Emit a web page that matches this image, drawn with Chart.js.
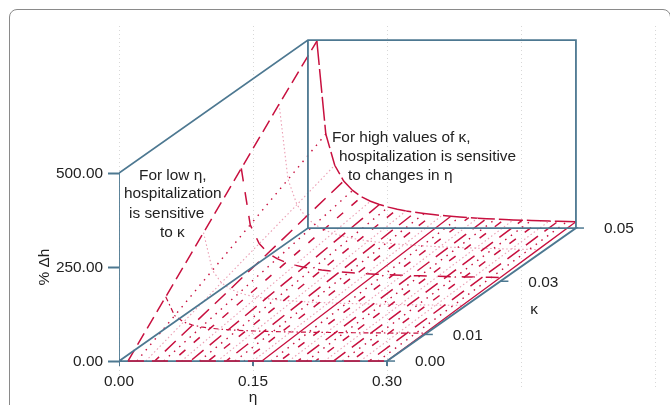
<!DOCTYPE html>
<html>
<head>
<meta charset="utf-8">
<title>Hospitalization sensitivity</title>
<script src="https://cdn.jsdelivr.net/npm/chart.js@4/dist/chart.umd.min.js"></script>
<style>
  html, body { margin: 0; padding: 0; background: #fff; overflow: hidden; width: 670px; height: 405px; }
  #card { position: absolute; left: 9px; top: 9px; width: 660px; height: 420px; border: 1px solid #8a8a8a; border-radius: 8px; }
  #chart { position: absolute; left: 0; top: 0; }
</style>
</head>
<body>
<div id="card"></div>
<canvas id="chart" width="670" height="405"></canvas>
<script>
// values
const etaValues = [0.01,0.02,0.03,0.04,0.05,0.06,0.07,0.08,0.09,0.10,0.11,0.12,0.13,0.14,0.15,
                   0.16,0.17,0.18,0.19,0.20,0.21,0.22,0.23,0.24,0.25,0.26,0.27,0.28,0.29,0.30];
const kappaValues = [0.00, 0.01, 0.02, 0.03, 0.04, 0.05];

const pctH00 = [0,0,0,0,0,0,0,0,0,0,0,0,0,0,0,0,0,0,0,0,0,0,0,0,0,0,0,0,0,0];
const pctH01 = [100,50,33.3,25,20,16.7,14.3,12.5,11.1,10,9.1,8.3,7.7,7.1,6.7,6.3,5.9,5.6,5.3,5,4.8,4.5,4.3,4.2,4,3.8,3.7,3.6,3.4,3.3];
const pctH02 = [200,100,66.7,50,40,33.3,28.6,25,22.2,20,18.2,16.7,15.4,14.3,13.3,12.5,11.8,11.1,10.5,10,9.5,9.1,8.7,8.3,8,7.7,7.4,7.1,6.9,6.7];
const pctH03 = [300,150,100,75,60,50,42.9,37.5,33.3,30,27.3,25,23.1,21.4,20,18.8,17.6,16.7,15.8,15,14.3,13.6,13,12.5,12,11.5,11.1,10.7,10.3,10];
const pctH04 = [400,200,133,100,80,66.7,57.1,50,44.4,40,36.4,33.3,30.8,28.6,26.7,25,23.5,22.2,21.1,20,19,18.2,17.4,16.7,16,15.4,14.8,14.3,13.8,13.3];
const pctH05 = [497,250,167,125,100,83,71.4,62.5,55.6,50,45.5,41.7,38.5,35.7,33.3,31.3,29.4,27.8,26.3,25,23.8,22.7,21.7,20.8,20,19.2,18.5,17.9,17.2,16.7];
const pctRows = [pctH00, pctH01, pctH02, pctH03, pctH04, pctH05];

const etaTicks = [0.00, 0.15, 0.30];
const kappaTicks = [0.00, 0.01, 0.03, 0.05];
const pctTicks = [0, 250, 500];

// box edges, null breaks the path
const frameEta   = [0, 0.3, 0.3, 0, 0, 0, 0, 0.3, 0.3, null, 0, 0];
const frameKappa = [0, 0, 0.05, 0.05, 0, 0, 0.05, 0.05, 0.05, null, 0.05, 0.05];
const framePct   = [0, 0, 0, 0, 0, 500, 500, 500, 0, null, 0, 500];

const noteTexts = ["For low η,", "hospitalization", "is sensitive", "to κ",
                   "For high values of κ,", "hospitalization is sensitive", "to changes in η"];
const noteX = [0.0224, 0.0056, 0.0112, 0.0459, 0.2384, 0.2463, 0.2564];
const noteY = [494, 446, 391, 340, 593, 542, 492];

// oblique projection of the kappa axis onto the page
const KX = 4.23, KY = 7074;
const project = (eta, kappa, pct) => ({ x: eta + kappa * KX, y: pct + kappa * KY });

const BLUE = "#4d7891", RED = "#c8103f", PINK = "#eb9fb4";
const FONT = "15.4px 'Liberation Sans'";
const datasets = [];

// frame
datasets.push({
  data: frameEta.map((e, i) => e === null ? { x: null, y: null } : project(e, frameKappa[i], framePct[i])),
  borderColor: BLUE, borderWidth: 1.8, order: 0, spanGaps: false
});

// ticks on eta and kappa
etaTicks.forEach(e => datasets.push({
  data: [project(e, 0, 0), project(e, 0, -13)], borderColor: BLUE, borderWidth: 2, order: 0
}));
kappaTicks.forEach(k => {
  const a = project(0.30, k, 0);
  datasets.push({ data: [a, { x: a.x + 0.009, y: a.y }], borderColor: BLUE, borderWidth: 1.5, order: 0 });
});

// lines along kappa, one per eta, line styles in turn
const longDash = { borderColor: RED, borderWidth: 1.5, borderDash: [15, 8] };
const shortDash = { borderColor: RED, borderWidth: 1.5, borderDash: [8, 11] };
const redDots = { borderColor: RED, borderWidth: 1.4, borderDash: [1.5, 5.5] };
const pinkDots = { borderColor: PINK, borderWidth: 1.1, borderDash: [1.5, 2.5] };
const solidLine = { borderColor: RED, borderWidth: 1.3, borderDash: [] };

etaValues.forEach((eta, j) => {
  const pts = kappaValues.map((k, i) => project(eta, k, pctRows[i][j]));
  let style;
  if (j === etaValues.length - 1 || j === 15) style = solidLine;
  else if (j === 0) style = { borderColor: RED, borderWidth: 1.5, borderDash: [13, 6] };
  else if (j === 1) style = redDots;
  else if (j === 2) style = pinkDots;
  else if (j % 4 === 3) style = Object.assign({ borderDashOffset: j * 3 }, longDash);
  else if (j % 4 === 1) style = Object.assign({ borderDashOffset: j * 2 }, shortDash);
  else if (j % 4 === 0) style = redDots;
  else style = pinkDots;
  datasets.push(Object.assign({ data: pts, order: 1 }, style));
});

// lines along eta, one per kappa; the kappa = 0 one sits on top of the frame
const curveStyles = [
  { borderColor: RED, borderWidth: 1.5, borderDash: [16, 8], order: -1 },
  { borderColor: RED, borderWidth: 1.2, borderDash: [5, 3, 1.5, 3], order: 1 },
  { borderColor: PINK, borderWidth: 1.1, borderDash: [1.5, 2.5], order: 1 },
  { borderColor: RED, borderWidth: 1.5, borderDash: [13, 11], order: 1 },
  { borderColor: PINK, borderWidth: 1.1, borderDash: [1.5, 2.5], order: 1 },
  { borderColor: RED, borderWidth: 1.5, borderDash: [24, 4], order: 1 }
];
kappaValues.forEach((k, i) => {
  datasets.push(Object.assign({
    data: etaValues.map((eta, j) => project(eta, k, pctRows[i][j]))
  }, curveStyles[i]));
});

const labelPlugin = {
  id: "labelPlugin",
  afterDraw(chart) {
    const c = chart.ctx, sx = chart.scales.x, sy = chart.scales.y;
    c.save();
    c.fillStyle = "#222";
    c.textBaseline = "middle";
    c.font = FONT;
    // notes
    c.textAlign = "left";
    noteTexts.forEach((t, i) => c.fillText(t, sx.getPixelForValue(noteX[i]), sy.getPixelForValue(noteY[i])));
    // kappa tick labels
    kappaTicks.forEach(k => {
      const a = project(0.30, k, 0);
      c.fillText(k.toFixed(2), sx.getPixelForValue(a.x) + 28, sy.getPixelForValue(a.y) + (k === 0.03 ? 2 : 1));
    });
    // value axis labels from the scale's ticks
    c.textAlign = "right";
    sy.ticks.forEach(t => c.fillText(t.value.toFixed(2), 103, sy.getPixelForValue(t.value) + 1));
    // eta tick labels
    c.textAlign = "center";
    etaTicks.forEach(e => c.fillText(e.toFixed(2), sx.getPixelForValue(e), 382));
    // axis titles
    c.fillText("η", sx.getPixelForValue(0.15), 398);
    c.fillText("κ", 534, 310);
    c.translate(45, sy.getPixelForValue(250));
    c.rotate(-Math.PI / 2);
    c.fillText("% Δh", 0, 0);
    c.restore();
  }
};

new Chart(document.getElementById("chart"), {
  type: "scatter",
  data: { datasets: datasets.map(d => Object.assign({ showLine: true, pointRadius: 0, fill: false, tension: 0 }, d)) },
  options: {
    responsive: false,
    animation: false,
    events: [],
    layout: { padding: { left: 0, right: 15, top: 26, bottom: 15 } },
    plugins: { legend: { display: false }, tooltip: { enabled: false } },
    scales: {
      x: {
        type: "linear", min: 0, max: 0.6,
        afterFit: s => { s.height = 0; },
        border: { display: false, dash: [1, 3] },
        grid: { color: "#d8d8d8", lineWidth: 1, drawTicks: false },
        ticks: { stepSize: 0.15, display: false }
      },
      y: {
        type: "linear", min: -77, max: 891,
        afterFit: s => { s.width = 119; },
        afterBuildTicks: s => { s.ticks = pctTicks.map(v => ({ value: v })); },
        border: { display: false },
        grid: { drawOnChartArea: false, color: BLUE, tickColor: BLUE, tickWidth: 2, tickLength: 11 },
        ticks: { display: false }
      }
    }
  },
  plugins: [labelPlugin]
});
</script>
</body>
</html>
